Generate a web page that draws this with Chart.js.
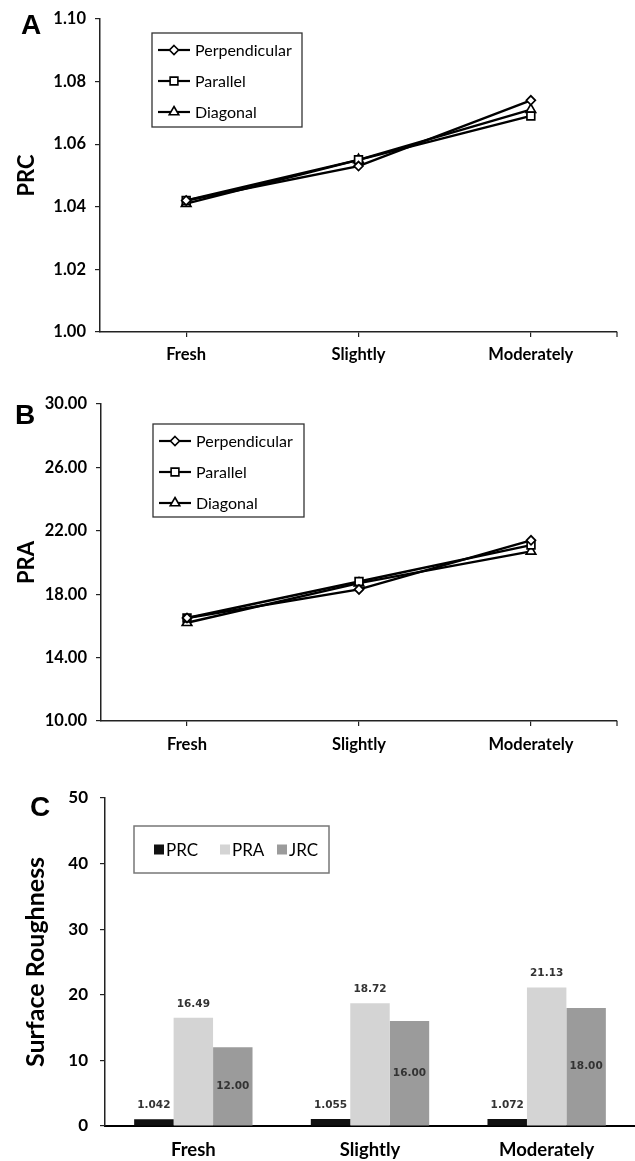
<!DOCTYPE html>
<html>
<head>
<meta charset="utf-8">
<script src="https://cdn.jsdelivr.net/npm/chart.js@4.4.1/dist/chart.umd.min.js"></script>
<style>
    body { margin: 0; background: #fff; }
    #page { position: relative; width: 635px; height: 1161px; overflow: hidden; }
    .panel { position: absolute; left: 0; }
    .tag { position: absolute; font: bold 28px "Liberation Sans", Arial, sans-serif; line-height: 28px; color: #000; }
</style>
</head>
<body>
<div id="page">
    <canvas id="chartA" class="panel" style="top:0" width="635" height="372"></canvas>
    <canvas id="chartB" class="panel" style="top:380px" width="635" height="385"></canvas>
    <canvas id="chartC" class="panel" style="top:775px" width="635" height="386"></canvas>
    <div class="tag" style="left:21px;top:11px">A</div>
    <div class="tag" style="left:15px;top:401px">B</div>
    <div class="tag" style="left:30px;top:793px">C</div>
</div>
<script>
    'use strict';

    var categories = ['Fresh', 'Slightly', 'Moderately'];
    var lineNames = ['Perpendicular', 'Parallel', 'Diagonal'];
    var linePoints = ['rectRot', 'rect', 'triangle'];

    // panel A - PRC per direction
    var prcPerpendicular = [1.042, 1.053, 1.074];
    var prcParallel = [1.042, 1.055, 1.069];
    var prcDiagonal = [1.041, 1.055, 1.071];
    var prcTicks = [1.00, 1.02, 1.04, 1.06, 1.08, 1.10];

    // panel B - PRA per direction
    var praPerpendicular = [16.5, 18.3, 21.4];
    var praParallel = [16.5, 18.8, 21.1];
    var praDiagonal = [16.2, 18.7, 20.7];
    var praTicks = [10, 14, 18, 22, 26, 30];

    // panel C - mean surface roughness
    var barNames = ['PRC', 'PRA', 'JRC'];
    var prcMean = [1.042, 1.055, 1.072];
    var praMean = [16.49, 18.72, 21.13];
    var jrcMean = [12.00, 16.00, 18.00];
    var roughTicks = [0, 10, 20, 30, 40, 50];

    Chart.defaults.font.family = 'Lato';
    Chart.defaults.color = '#000';

    function drawMarker(ctx, style, x, y, r) {
        ctx.beginPath();
        if (style === 'rectRot') {
            ctx.moveTo(x, y - r); ctx.lineTo(x + r, y); ctx.lineTo(x, y + r); ctx.lineTo(x - r, y);
        } else if (style === 'rect') {
            var s = r * Math.SQRT1_2;
            ctx.rect(x - s, y - s, 2 * s, 2 * s);
        } else {
            ctx.moveTo(x, y - r); ctx.lineTo(x + r * 0.87, y + r * 0.5); ctx.lineTo(x - r * 0.87, y + r * 0.5);
        }
        ctx.closePath();
        ctx.fillStyle = '#fff';
        ctx.fill();
        ctx.stroke();
    }

    var lineLegend = {
        id: 'lineLegend',
        afterDraw: function (chart, args, opts) {
            var ctx = chart.ctx;
            ctx.save();
            ctx.strokeStyle = '#333';
            ctx.lineWidth = 1.3;
            ctx.strokeRect(opts.x, opts.y, opts.w, opts.h);
            ctx.font = '16px Lato';
            ctx.textBaseline = 'middle';
            chart.data.datasets.forEach(function (ds, i) {
                var cy = opts.y + 17 + i * 31;
                ctx.strokeStyle = '#000';
                ctx.lineWidth = 2.2;
                ctx.beginPath();
                ctx.moveTo(opts.x + 6, cy);
                ctx.lineTo(opts.x + 38, cy);
                ctx.stroke();
                ctx.lineWidth = 1.6;
                drawMarker(ctx, ds.pointStyle, opts.x + 22, cy, ds.pointRadius);
                ctx.fillStyle = '#000';
                ctx.fillText(ds.label, opts.x + 43, cy + 1);
            });
            ctx.restore();
        }
    };

    // small tick at the right end of the category axis, as in the original
    var endTick = {
        id: 'endTick',
        afterDraw: function (chart) {
            var ctx = chart.ctx, area = chart.chartArea;
            ctx.save();
            ctx.strokeStyle = '#222';
            ctx.lineWidth = 1.2;
            ctx.beginPath();
            ctx.moveTo(area.right, area.bottom);
            ctx.lineTo(area.right, area.bottom + 5);
            ctx.stroke();
            ctx.restore();
        }
    };

    var barLegend = {
        id: 'barLegend',
        afterDraw: function (chart, args, opts) {
            var ctx = chart.ctx;
            ctx.save();
            ctx.strokeStyle = '#777';
            ctx.lineWidth = 1.5;
            ctx.strokeRect(opts.x, opts.y, opts.w, opts.h);
            ctx.font = '17px Lato';
            ctx.textBaseline = 'middle';
            var cy = opts.y + opts.h / 2;
            var xs = [20, 86, 143];
            chart.data.datasets.forEach(function (ds, i) {
                var x0 = opts.x + xs[i];
                ctx.fillStyle = ds.backgroundColor;
                ctx.fillRect(x0, cy - 5, 10, 10);
                ctx.fillStyle = '#000';
                ctx.fillText(ds.label, x0 + 12, cy + 1);
            });
            ctx.restore();
        }
    };

    var barLabels = {
        id: 'barLabels',
        afterDatasetsDraw: function (chart) {
            var ctx = chart.ctx;
            ctx.save();
            ctx.font = 'bold 10.5px "DejaVu Sans"';
            ctx.fillStyle = '#333';
            ctx.textAlign = 'center';
            ctx.textBaseline = 'middle';
            chart.data.datasets.forEach(function (ds, i) {
                var meta = chart.getDatasetMeta(i);
                meta.data.forEach(function (bar, j) {
                    var y = ds.labelInside ? (bar.y + bar.base) / 2 : bar.y - 14;
                    ctx.fillText(ds.data[j].toFixed(ds.decimals), bar.x, y);
                });
            });
            ctx.restore();
        }
    };

    function lineSet(label, data, i) {
        return {
            label: label,
            data: data,
            borderColor: '#000',
            borderWidth: 2.4,
            pointStyle: linePoints[i],
            pointRadius: i === 0 ? 4.5 : 5.5,
            pointBackgroundColor: '#fff',
            pointBorderColor: '#000',
            pointBorderWidth: 1.7,
            tension: 0
        };
    }

    function makeLineChart(id, series, ticks, title, geo) {
        return new Chart(document.getElementById(id), {
            type: 'line',
            data: {
                labels: categories,
                datasets: series.map(function (s, i) { return lineSet(lineNames[i], s, i); })
            },
            options: {
                responsive: false,
                animation: false,
                layout: { padding: { left: 0, right: 18, top: geo.top, bottom: 0 } },
                plugins: {
                    legend: { display: false },
                    tooltip: { enabled: false },
                    lineLegend: geo.legend
                },
                scales: {
                    x: {
                        offset: true,
                        grid: { drawOnChartArea: false, tickLength: 5, color: '#222', lineWidth: 1.2 },
                        border: { color: '#222', width: 1.5 },
                        ticks: { font: { size: 16.5, weight: 'bold' }, padding: geo.xPad, color: '#000' },
                        afterFit: function (scale) { scale.height = geo.xHeight; }
                    },
                    y: {
                        min: ticks[0],
                        max: ticks[ticks.length - 1],
                        afterBuildTicks: function (scale) {
                            scale.ticks = ticks.map(function (v) { return { value: v }; });
                        },
                        grid: { drawOnChartArea: false, tickLength: 5, color: '#222', lineWidth: 1.2 },
                        border: { color: '#222', width: 1.5 },
                        ticks: {
                            font: { size: 16.5, weight: 'bold' },
                            padding: 9,
                            color: '#000',
                            callback: function (v) { return Number(v).toFixed(2); }
                        },
                        title: {
                            display: true,
                            text: title,
                            font: { size: 22, weight: 'bold' },
                            padding: { top: 14, bottom: 0 }
                        },
                        afterFit: function (scale) { scale.width = geo.yWidth; }
                    }
                }
            },
            plugins: [lineLegend, endTick]
        });
    }

    makeLineChart('chartA', [prcPerpendicular, prcParallel, prcDiagonal], prcTicks, 'PRC', {
        top: 14, xHeight: 40, xPad: 8, yWidth: 100,
        legend: { x: 152, y: 33, w: 150, h: 94 }
    });

    makeLineChart('chartB', [praPerpendicular, praParallel, praDiagonal], praTicks, 'PRA', {
        top: 24, xHeight: 44, xPad: 9, yWidth: 101,
        legend: { x: 153, y: 44, w: 151, h: 93 }
    });

    new Chart(document.getElementById('chartC'), {
        type: 'bar',
        data: {
            labels: categories,
            datasets: [
                { label: barNames[0], data: prcMean, backgroundColor: '#111111', decimals: 3, labelInside: false },
                { label: barNames[1], data: praMean, backgroundColor: '#d4d4d4', decimals: 2, labelInside: false },
                { label: barNames[2], data: jrcMean, backgroundColor: '#9b9b9b', decimals: 2, labelInside: true }
            ]
        },
        options: {
            responsive: false,
            animation: false,
            layout: { padding: { left: 0, right: 0, top: 23, bottom: 0 } },
            datasets: { bar: { categoryPercentage: 0.67, barPercentage: 1.0 } },
            plugins: {
                legend: { display: false },
                tooltip: { enabled: false },
                barLegend: { x: 134, y: 51, w: 195, h: 47 }
            },
            scales: {
                x: {
                    grid: { display: false },
                    border: { color: '#000', width: 2 },
                    ticks: { font: { size: 18.5, weight: 'bold' }, padding: 5, color: '#000' },
                    afterFit: function (scale) { scale.height = 35; }
                },
                y: {
                    min: roughTicks[0],
                    max: roughTicks[roughTicks.length - 1],
                    afterBuildTicks: function (scale) {
                        scale.ticks = roughTicks.map(function (v) { return { value: v }; });
                    },
                    grid: { drawOnChartArea: false, tickLength: 5, color: '#222', lineWidth: 1.2 },
                    border: { color: '#222', width: 1.5 },
                    ticks: { font: { size: 17, weight: 'bold' }, padding: 12, color: '#000' },
                    title: {
                        display: true,
                        text: 'Surface Roughness',
                        font: { size: 25, weight: 'bold' },
                        padding: { top: 21, bottom: 0 }
                    },
                    afterFit: function (scale) { scale.width = 105; }
                }
            }
        },
        plugins: [barLegend, barLabels]
    });
</script>
</body>
</html>
